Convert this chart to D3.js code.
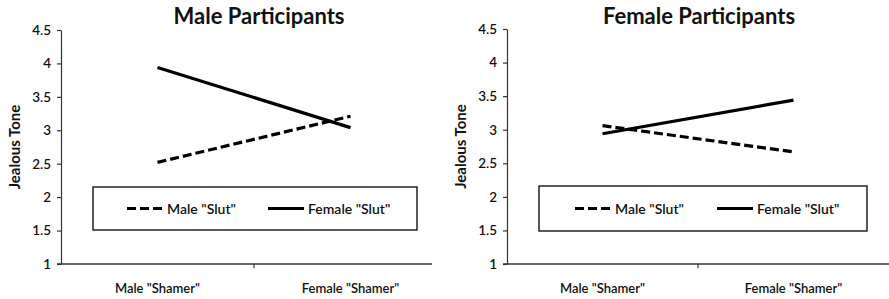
<!DOCTYPE html>
<html>
<head>
<meta charset="utf-8">
<script src="https://cdn.jsdelivr.net/npm/d3@7"></script>
<style>
  html, body { margin: 0; padding: 0; background: #fff; }
  svg { display: block; font-family: Lato, "Open Sans", sans-serif; }
</style>
</head>
<body>
<svg id="chart" width="889" height="299"></svg>
<script>
// ---- data ----
const categories = ['Male "Shamer"', 'Female "Shamer"'];
const seriesNames = ['Male "Slut"', 'Female "Slut"'];
const panelTitles = ['Male Participants', 'Female Participants'];
const yLabel = 'Jealous Tone';
const yTicks = [1, 1.5, 2, 2.5, 3, 3.5, 4, 4.5];
const maleParticipantsMaleSlut = [2.52, 3.21];
const maleParticipantsFemaleSlut = [3.94, 3.04];
const femaleParticipantsMaleSlut = [3.06, 2.67];
const femaleParticipantsFemaleSlut = [2.94, 3.44];

// ---- layout ----
const svg = d3.select('#chart');
const panels = [
  { title: panelTitles[0], x0: 61, bandW: 193, lineEnd: 432, yTop: 30, yBot: 264,
    titleX: 259, ylabX: 15, legend: { x: 93, y: 187, w: 324, h: 43, item1: 127, item2: 268 },
    series: [maleParticipantsMaleSlut, maleParticipantsFemaleSlut] },
  { title: panelTitles[1], x0: 507, bandW: 191, lineEnd: 889, yTop: 29, yBot: 264,
    titleX: 699, ylabX: 461, legend: { x: 539, y: 186, w: 328, h: 45, item1: 575, item2: 717 },
    series: [femaleParticipantsMaleSlut, femaleParticipantsFemaleSlut] }
];
const dashes = ['9,4', null];
const axisColor = '#333';

panels.forEach(p => {
  const g = svg.append('g');
  const x = d3.scaleBand().domain(categories).range([p.x0, p.x0 + p.bandW * categories.length]).padding(0);
  const y = d3.scaleLinear().domain([1, 4.5]).range([p.yBot, p.yTop]);

  // title
  g.append('text').attr('x', p.titleX).attr('y', 24).attr('text-anchor', 'middle')
    .attr('font-size', 22).attr('font-weight', 'bold').attr('fill', '#111').text(p.title);

  // y axis
  const yAxis = d3.axisLeft(y).tickValues(yTicks).tickSize(4).tickSizeOuter(0).tickPadding(6)
    .tickFormat(d3.format('~g'));
  const ya = g.append('g').attr('transform', `translate(${p.x0},0)`).call(yAxis);
  ya.selectAll('path, line').attr('stroke', axisColor).attr('stroke-width', 1.2);
  ya.selectAll('text').attr('font-size', 13.5).attr('font-family', 'Lato, sans-serif')
    .attr('fill', '#111').attr('font-weight', 600);

  // x axis line
  g.append('line').attr('x1', p.x0 - 4).attr('x2', p.lineEnd).attr('y1', y(1)).attr('y2', y(1))
    .attr('stroke', axisColor).attr('stroke-width', 1.4);
  // tick marks at band boundaries (excluding the first)
  const bounds = categories.slice(1).map(c => x(c)).filter(b => b < p.lineEnd);
  g.selectAll('.xt').data(bounds).join('line')
    .attr('x1', d => d).attr('x2', d => d).attr('y1', y(1)).attr('y2', y(1) + 4)
    .attr('stroke', axisColor).attr('stroke-width', 1.2);
  // x labels
  g.selectAll('.xl').data(categories).join('text')
    .attr('x', d => x(d) + x.bandwidth() / 2).attr('y', 293).attr('text-anchor', 'middle')
    .attr('font-size', 13).attr('fill', '#111').attr('font-weight', 600).text(d => d);

  // y label
  g.append('text').attr('transform', `translate(${p.ylabX + 5},${(p.yTop + p.yBot) / 2}) rotate(-90)`)
    .attr('text-anchor', 'middle').attr('font-size', 15).attr('font-weight', 'bold')
    .attr('fill', '#111').text(yLabel);

  // lines
  const line = d3.line().x((d, i) => x(categories[i]) + x.bandwidth() / 2).y(d => y(d));
  p.series.forEach((vals, si) => {
    g.append('path').datum(vals).attr('d', line).attr('fill', 'none')
      .attr('stroke', '#000').attr('stroke-width', 3.2)
      .attr('stroke-dasharray', dashes[si]);
  });

  // legend
  const L = p.legend;
  g.append('rect').attr('x', L.x).attr('y', L.y).attr('width', L.w).attr('height', L.h)
    .attr('fill', '#fff').attr('stroke', '#000').attr('stroke-width', 1.3);
  const ly = L.y + L.h / 2;
  [L.item1, L.item2].forEach((lx, si) => {
    g.append('line').attr('x1', lx).attr('x2', lx + 36).attr('y1', ly).attr('y2', ly)
      .attr('stroke', '#000').attr('stroke-width', 3.2).attr('stroke-dasharray', dashes[si]);
    g.append('text').attr('x', lx + 40).attr('y', ly + 5).attr('font-size', 14)
      .attr('font-weight', 600).attr('fill', '#111').text(seriesNames[si]);
  });
});
</script>
</body>
</html>
